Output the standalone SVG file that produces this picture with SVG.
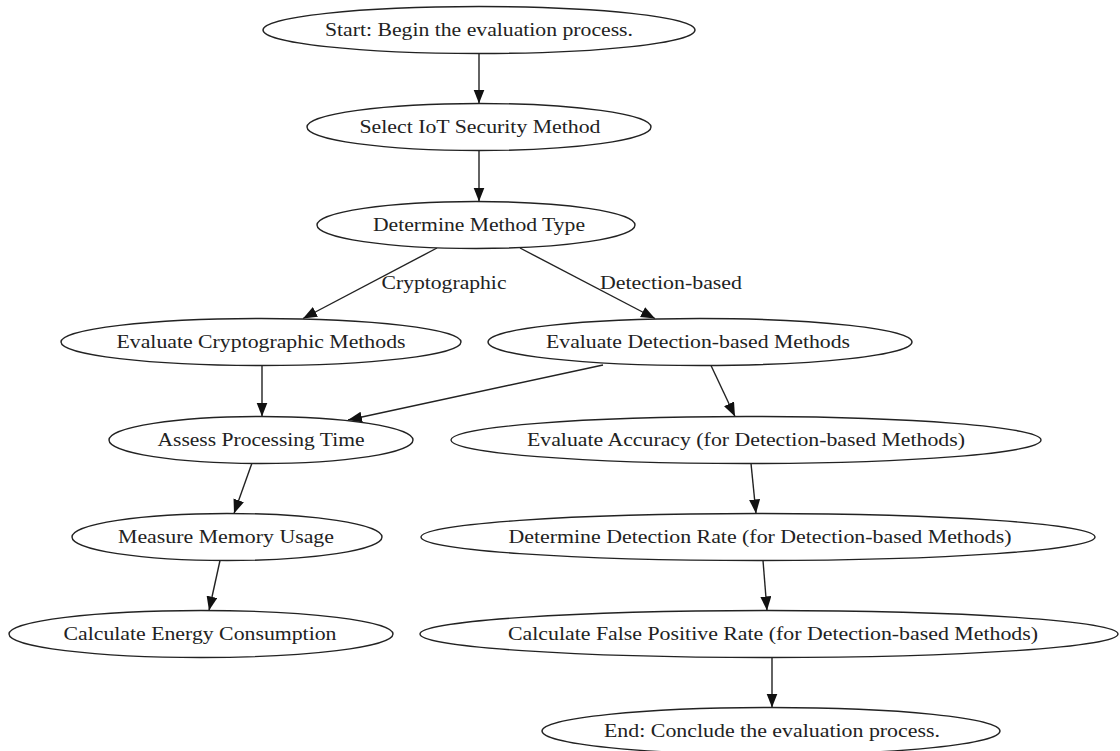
<svg xmlns="http://www.w3.org/2000/svg" width="1120" height="751" viewBox="0 0 1120 751">
<style>
.n ellipse{fill:#fff;stroke:#222;stroke-width:1.4}
text{font-family:"Liberation Serif","Times New Roman",serif;font-size:19px;fill:#222;text-anchor:middle}
.e line{stroke:#222;stroke-width:1.4;marker-end:url(#ah)}
</style>
<defs>
<marker id="ah" markerUnits="userSpaceOnUse" markerWidth="15" markerHeight="12" refX="14" refY="5.5" orient="auto">
<path d="M0,0 L14,5.5 L0,11 z" fill="#111"/>
</marker>
</defs>
<rect width="1120" height="751" fill="#fff"/>
<g class="e" id="connectors">
<line x1="479" y1="53.5" x2="479" y2="103.5"/>
<line x1="479" y1="150.5" x2="479" y2="201.5"/>
<line x1="437" y1="248" x2="303" y2="318.5"/>
<line x1="520" y1="248" x2="655" y2="318.5"/>
<line x1="262" y1="365.5" x2="262" y2="416.5"/>
<line x1="603" y1="365" x2="348" y2="420"/>
<line x1="711" y1="365.5" x2="735" y2="416.5"/>
<line x1="252" y1="463" x2="234" y2="513.5"/>
<line x1="751" y1="463.5" x2="756" y2="513.5"/>
<line x1="220" y1="560.5" x2="209" y2="610.5"/>
<line x1="763" y1="560.5" x2="767" y2="610.5"/>
<line x1="772" y1="657.5" x2="772" y2="707.5"/>
<text x="444" y="289" textLength="125" lengthAdjust="spacingAndGlyphs">Cryptographic</text>
<text x="671" y="289" textLength="142" lengthAdjust="spacingAndGlyphs">Detection-based</text>
</g>
<g class="n" id="start"><ellipse cx="479" cy="30" rx="216" ry="23.5"/><text x="479" y="36" textLength="308" lengthAdjust="spacingAndGlyphs">Start: Begin the evaluation process.</text></g>
<g class="n" id="select"><ellipse cx="479" cy="127" rx="172" ry="23.5"/><text x="480" y="133" textLength="241" lengthAdjust="spacingAndGlyphs">Select IoT Security Method</text></g>
<g class="n" id="determine"><ellipse cx="476" cy="225" rx="159" ry="23.5"/><text x="479" y="231" textLength="212" lengthAdjust="spacingAndGlyphs">Determine Method Type</text></g>
<g class="n" id="evalCrypto"><ellipse cx="261" cy="342" rx="200" ry="23.5"/><text x="261" y="348" textLength="289" lengthAdjust="spacingAndGlyphs">Evaluate Cryptographic Methods</text></g>
<g class="n" id="evalDetection"><ellipse cx="700" cy="342" rx="212" ry="23.5"/><text x="698" y="348" textLength="304" lengthAdjust="spacingAndGlyphs">Evaluate Detection-based Methods</text></g>
<g class="n" id="assess"><ellipse cx="261" cy="440" rx="152" ry="23.5"/><text x="261" y="446" textLength="207" lengthAdjust="spacingAndGlyphs">Assess Processing Time</text></g>
<g class="n" id="accuracy"><ellipse cx="746" cy="440" rx="295" ry="23.5"/><text x="746" y="446" textLength="438" lengthAdjust="spacingAndGlyphs">Evaluate Accuracy (for Detection-based Methods)</text></g>
<g class="n" id="memory"><ellipse cx="227" cy="537" rx="155" ry="23.5"/><text x="226" y="543" textLength="216" lengthAdjust="spacingAndGlyphs">Measure Memory Usage</text></g>
<g class="n" id="detRate"><ellipse cx="758" cy="537" rx="337" ry="23.5"/><text x="760" y="543" textLength="503" lengthAdjust="spacingAndGlyphs">Determine Detection Rate (for Detection-based Methods)</text></g>
<g class="n" id="energy"><ellipse cx="201" cy="634" rx="192" ry="23.5"/><text x="200" y="640" textLength="273" lengthAdjust="spacingAndGlyphs">Calculate Energy Consumption</text></g>
<g class="n" id="fpr"><ellipse cx="769" cy="634" rx="349" ry="23.5"/><text x="773" y="640" textLength="530" lengthAdjust="spacingAndGlyphs">Calculate False Positive Rate (for Detection-based Methods)</text></g>
<g class="n" id="end"><ellipse cx="771" cy="731" rx="229" ry="23.5"/><text x="772" y="737" textLength="336" lengthAdjust="spacingAndGlyphs">End: Conclude the evaluation process.</text></g>
</svg>
